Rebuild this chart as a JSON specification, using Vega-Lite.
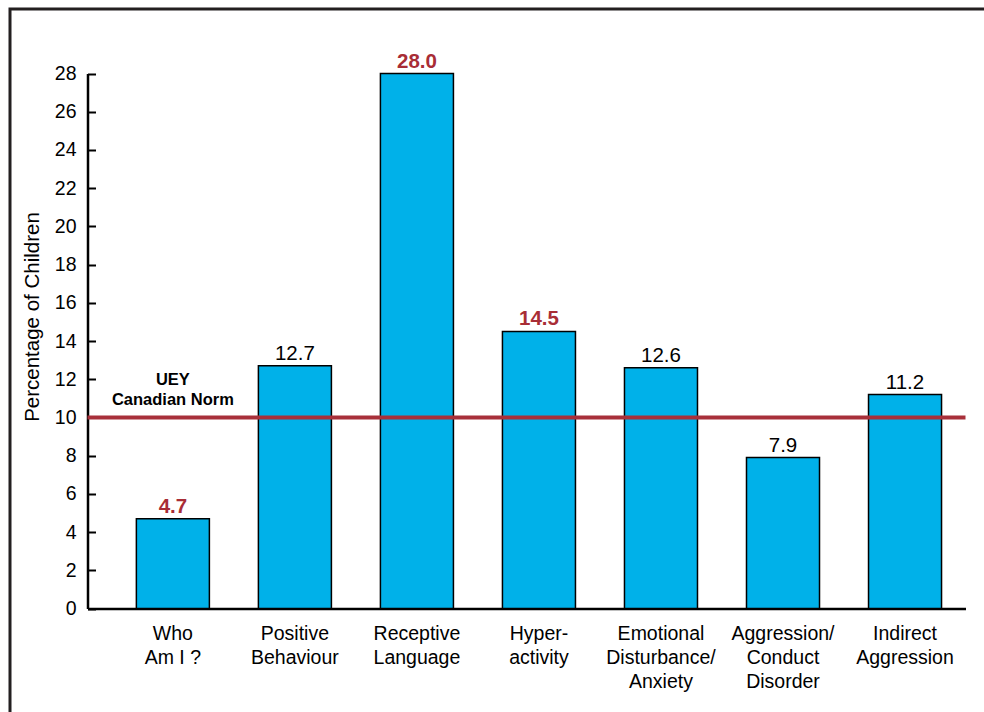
{
  "$schema": "https://vega.github.io/schema/vega-lite/v6.json",
  "width": 978,
  "height": 707,
  "autosize": {"type": "none"},
  "padding": {"left": 10, "top": 9, "right": -4, "bottom": -4},
  "background": "white",
  "config": {
    "view": {"stroke": "#231f20", "strokeWidth": 3},
    "font": "Liberation Sans",
    "axis": {"domainColor": "black", "tickColor": "black", "labelColor": "black", "titleColor": "black", "grid": false}
  },
  "datasets": {
    "bars": [
      {"category": "Who\nAm I ?", "value": 4.7, "significant": true},
      {"category": "Positive\nBehaviour", "value": 12.7, "significant": false},
      {"category": "Receptive\nLanguage", "value": 28.0, "significant": true},
      {"category": "Hyper-\nactivity", "value": 14.5, "significant": true},
      {"category": "Emotional\nDisturbance/\nAnxiety", "value": 12.6, "significant": false},
      {"category": "Aggression/\nConduct\nDisorder", "value": 7.9, "significant": false},
      {"category": "Indirect\nAggression", "value": 11.2, "significant": false}
    ],
    "norm": [
      {"category": "Who\nAm I ?", "norm": 10, "labelLevel": 11.7, "note": "UEY\nCanadian Norm"}
    ]
  },
  "layer": [
    {
      "data": {"name": "bars"},
      "encoding": {
        "x": {
          "field": "category", "type": "nominal", "sort": null,
          "scale": {"range": [77.5, 955.5], "paddingInner": 0.4016, "paddingOuter": 0.2984, "align": 0.671},
          "axis": {
            "orient": "bottom", "offset": -107.5, "title": null, "labelAngle": 0, "ticks": false,
            "domainWidth": 2.5, "labelFontSize": 19.5, "labelLineHeight": 24, "labelPadding": 16,
            "labelExpr": "split(datum.label, '\\n')", "labelBaseline": "top"
          }
        },
        "y": {
          "field": "value", "type": "quantitative",
          "scale": {"domain": [0, 28], "range": [599.5, 64.5], "nice": false},
          "axis": {
            "title": "Percentage of Children", "offset": -77.5,
            "values": [0, 2, 4, 6, 8, 10, 12, 14, 16, 18, 20, 22, 24, 26, 28],
            "tickSize": -8, "tickWidth": 2, "domainWidth": 2.5,
            "labelFontSize": 19.5, "labelPadding": 19.5,
            "titleFontSize": 20.5, "titleFontWeight": "normal", "titlePadding": 12, "titleY": 307.5
          }
        }
      },
      "layer": [
        {"mark": {"type": "bar", "fill": "#00b1e9", "stroke": "black", "strokeWidth": 1.5}},
        {
          "transform": [{"filter": "!datum.significant"}],
          "mark": {"type": "text", "baseline": "alphabetic", "dy": -6, "fontSize": 20.5, "color": "black"},
          "encoding": {"text": {"field": "value", "type": "quantitative", "format": ".1f"}}
        },
        {
          "transform": [{"filter": "datum.significant"}],
          "mark": {"type": "text", "baseline": "alphabetic", "dy": -6, "fontSize": 20.5, "fontWeight": "bold", "color": "#a82d36"},
          "encoding": {"text": {"field": "value", "type": "quantitative", "format": ".1f"}}
        },
        {
          "data": {"name": "norm"},
          "mark": {"type": "text", "baseline": "alphabetic", "fontSize": 16.5, "fontWeight": "bold", "color": "black", "lineBreak": "\n", "lineHeight": 20.5},
          "encoding": {
            "y": {"field": "labelLevel", "type": "quantitative"},
            "text": {"field": "note", "type": "nominal"}
          }
        }
      ]
    },
    {
      "data": {"name": "norm"},
      "mark": {"type": "rule", "stroke": "#a8303a", "strokeWidth": 4},
      "encoding": {
        "x": {"datum": 0, "type": "quantitative", "scale": {"domain": [0, 1], "range": [77.5, 955.5]}, "axis": null},
        "x2": {"datum": 1},
        "y": {"field": "norm", "type": "quantitative"}
      }
    }
  ],
  "resolve": {"scale": {"x": "independent"}}
}
